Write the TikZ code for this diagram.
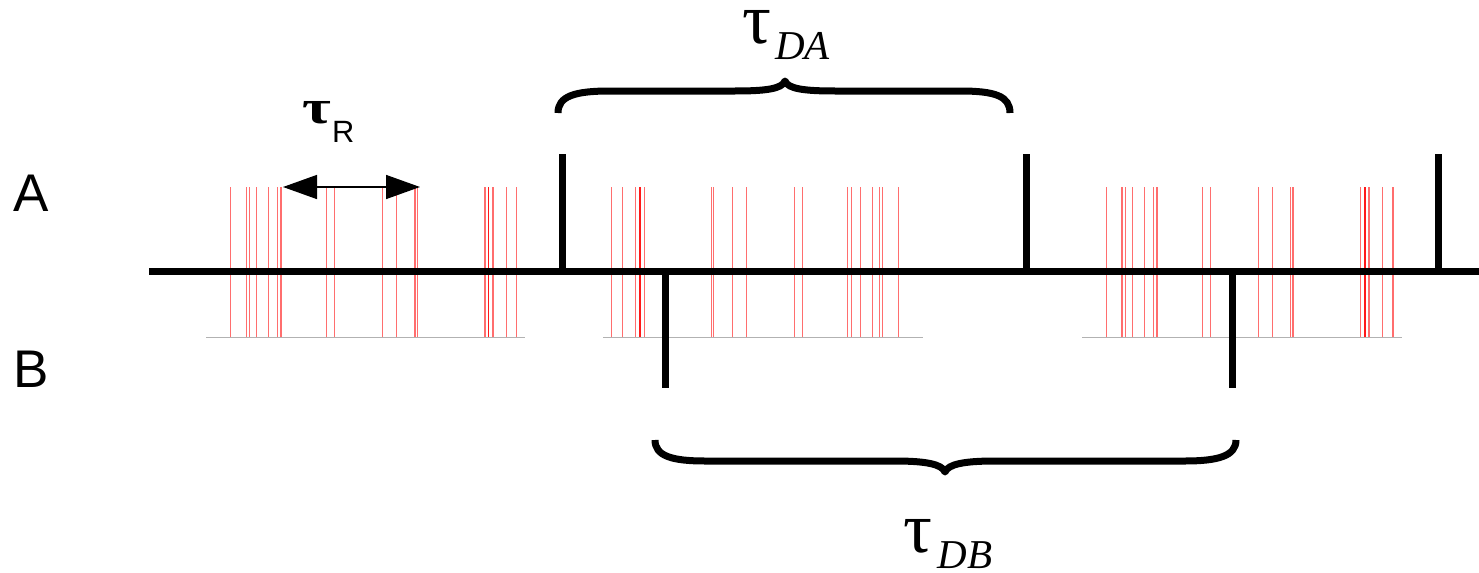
\documentclass[tikz,border=0pt]{standalone}
\usepackage{fontspec}
\setmainfont{Liberation Serif}
\newfontfamily\arialf{Liberation Sans}
\usetikzlibrary{arrows.meta}
\definecolor{evred}{RGB}{255,110,110}
\tikzset{
  spike/.style={line width=3.5pt, line cap=butt},
  axisline/.style={line width=3.5pt, line cap=butt},
  spikeline/.style={draw=evred, line width=0.6pt},
  darkspike/.style={draw=red!90, line width=0.8pt},
  basegray/.style={draw=gray!60, line width=0.5pt},
  bracepath/.style={line width=3.5pt, line join=round, line cap=butt},
  lbl/.style={inner sep=0pt, font=\arialf\fontsize{26.5}{30}\selectfont},
}
\begin{document}
\begin{tikzpicture}[x=0.5pt,y=-0.5pt]
\useasboundingbox (0,0) rectangle (1479,573);
% red event lines
\foreach \x in {230.7,246.3,249.3,256.3,268.3,277.7,281,326.3,334.3,382.3,396.3,415,417.3,485,493,506.3,516.7,
  611.7,622.3,635.7,644.3,711.3,713.7,732.3,746.3,794.3,802.3,847.7,851.3,860.3,872.7,879.3,882.3,898.3,
  1106.3,1122,1125.3,1132.3,1144.3,1153.3,1157,1202.3,1210.3,1258.3,1272.3,1290.7,1293,1360.3,1369,1382.3,1393}
  \draw[spikeline] (\x,187) -- (\x,337);
\foreach \x in {488.6,640,1365}
  \draw[darkspike] (\x,187) -- (\x,337);
% gray baselines
\draw[basegray] (206,337) -- (525,337);
\draw[basegray] (603,337) -- (923,337);
\draw[basegray] (1082,337) -- (1402,337);
% axis
\coordinate (ax0) at (149.3,271);
\coordinate (ax1) at (1479,271);
\draw[axisline] (ax0) -- (ax1);
% A spikes
\foreach \x in {562,1026,1438} \draw[spike] (\x,154) -- (\x,271);
% B spikes
\foreach \x in {665.3,1232.3} \draw[spike] (\x,271) -- (\x,388);
% labels
\node[lbl] (labelA) at (31.5,193.5) {A};
\node[lbl] (labelB) at (31.5,369) {B};
% tau_R
\node[inner sep=0pt, font=\bfseries\fontsize{24}{28}\selectfont, xscale=1.3] (tauR) at (317,113) {τ};
\node[inner sep=0pt, font=\arialf\fontsize{15.4}{18}\selectfont] (subR) at (343.3,131.7) {R};
\coordinate (rl) at (283,187);
\coordinate (rr) at (420,187);
\draw[line width=0.75pt, {Triangle[length=17pt,width=12pt]}-{Triangle[length=17pt,width=12pt]}] (rl) -- (rr);
% tau_DA
\node[inner sep=0pt, font=\fontsize{36}{40}\selectfont] (tauDA) at (756.5,27) {τ};
\node[inner sep=0pt, font=\itshape\fontsize{20.5}{24}\selectfont] (subDA) at (802.5,46.5) {DA};
\draw[bracepath] (558,113) .. controls (558,96) and (575,91) .. (610,91) -- (735,91)
  .. controls (765,91) and (782,89) .. (785,81) .. controls (788,89) and (805,91) .. (835,91)
  -- (960,91) .. controls (995,91) and (1010,96) .. (1010,113);
% tau_DB
\node[inner sep=0pt, font=\fontsize{36}{40}\selectfont] (tauDB) at (918,536) {τ};
\node[inner sep=0pt, font=\itshape\fontsize{20.5}{24}\selectfont] (subDB) at (965,555) {DB};
\draw[bracepath] (655,440) .. controls (655,456) and (672,461) .. (705,461) -- (895,461)
  .. controls (925,461) and (942,464) .. (945,472) .. controls (948,464) and (965,461) .. (995,461)
  -- (1185,461) .. controls (1218,461) and (1236,456) .. (1236,440);
\end{tikzpicture}
\end{document}
